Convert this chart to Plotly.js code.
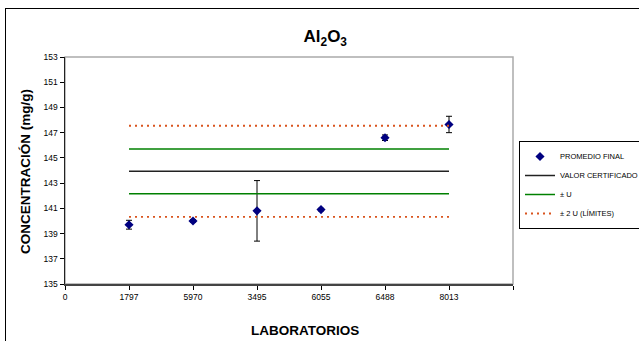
<!DOCTYPE html>
<html><head><meta charset="utf-8">
<script src="https://cdn.plot.ly/plotly-3.0.1.min.js"></script>
<style>
html,body{margin:0;padding:0;background:#fff;overflow:hidden;}
#wrap{position:relative;width:639px;height:341px;}
#chart{width:639px;height:341px;}
#frame{position:absolute;left:5px;top:8px;width:700px;height:400px;border:1.5px solid #000;pointer-events:none;}
</style></head>
<body><div id="wrap"><div id="chart"></div><div id="frame"></div></div>
<script>
const laboratorios = ['1797','5970','3495','6055','6488','8013'];
const promedioFinal = [139.7, 140.0, 140.8, 140.9, 146.6, 147.65];
const incertidumbre = [0.35, 0.1, 2.4, 0.1, 0.22, 0.65];
const valorCertificado = 143.95;
const limitesU = [142.15, 145.7];
const limites2U = [140.32, 147.55];
const yTicks = [135,137,139,141,143,145,147,149,151,153];

const xs = laboratorios.map((_, i) => i + 1);
const x0 = xs[0], x1 = xs[xs.length - 1];
function pairLines(vals){
  const x = [], y = [];
  vals.forEach((v, k) => { if (k) { x.push(null); y.push(null); } x.push(x0, x1); y.push(v, v); });
  return {x, y};
}
const font = 'Liberation Sans, Arial, sans-serif';
const lu = pairLines(limitesU), l2u = pairLines(limites2U);

const traces = [
  {type:'scatter', mode:'markers', name:'PROMEDIO FINAL', x: xs, y: promedioFinal,
   marker:{symbol:'diamond', size:7, color:'#000080'},
   error_y:{type:'data', array: incertidumbre, visible:true, color:'#000', thickness:1, width:3}},
  {type:'scatter', mode:'lines', name:'VALOR CERTIFICADO', x:[x0, x1], y:[valorCertificado, valorCertificado],
   line:{color:'#222', width:1.5}},
  {type:'scatter', mode:'lines', name:'± U', x: lu.x, y: lu.y, connectgaps:false,
   line:{color:'#008000', width:1.5}},
  {type:'scatter', mode:'lines', name:'± 2 U (LÍMITES)', x: l2u.x, y: l2u.y, connectgaps:false,
   line:{color:'#D9541E', width:1.8, dash:'2px,4px'}}
];

const layout = {
  width:639, height:341,
  margin:{l:65, r:126, t:57, b:57},
  paper_bgcolor:'#fff', plot_bgcolor:'#fff',
  font:{family:font, color:'#000'},
  title:{text:'<b>Al<sub>2</sub>O<sub>3</sub></b>', font:{size:17, family:font}, x:0.509, xanchor:'center', y:1-36/341, yanchor:'middle', xref:'container', yref:'container'},
  showlegend:true,
  legend:{xref:'container', yref:'container', x:519/639, xanchor:'left', y:1-185/341, yanchor:'middle',
    bordercolor:'#000', borderwidth:1,
    font:{size:7.5, family:font}, itemwidth:30, tracegroupgap:0, bgcolor:'#fff'},
  xaxis:{range:[0, xs.length + 1], tickmode:'array', tickvals:[0, ...xs, xs.length + 1],
    ticktext:['0', ...laboratorios, ' '], showgrid:false, zeroline:false,
    showline:true, linecolor:'#444', linewidth:2, ticks:'outside', ticklen:4, tickcolor:'#000', tickwidth:1,
    tickfont:{size:8.5, family:font}},
  yaxis:{range:[135, 153], tickmode:'array', tickvals: yTicks, showgrid:false, zeroline:false,
    showline:true, linecolor:'#222', linewidth:1.5, ticks:'outside', ticklen:4, tickcolor:'#000', tickwidth:1,
    tickfont:{size:8.5, family:font}},
  shapes:[{type:'rect', xref:'x domain', yref:'y domain', x0:0, x1:1, y0:0, y1:1,
    line:{color:'#aaa', width:1.5}, layer:'below'}],
  annotations:[
    {text:'<b>LABORATORIOS</b>', xref:'paper', yref:'paper', x:(305-65)/448, y:-(330-284)/227,
     xanchor:'center', yanchor:'middle', showarrow:false, font:{size:13.5, family:font}},
    {text:'<b>CONCENTRACIÓN (mg/g)</b>', xref:'paper', yref:'paper', x:-(65-25)/448, y:(284-172)/227,
     xanchor:'center', yanchor:'middle', showarrow:false, textangle:-90, font:{size:13.5, family:font}}
  ]
};
Plotly.newPlot('chart', traces, layout, {displayModeBar:false, staticPlot:true});
</script></body></html>
